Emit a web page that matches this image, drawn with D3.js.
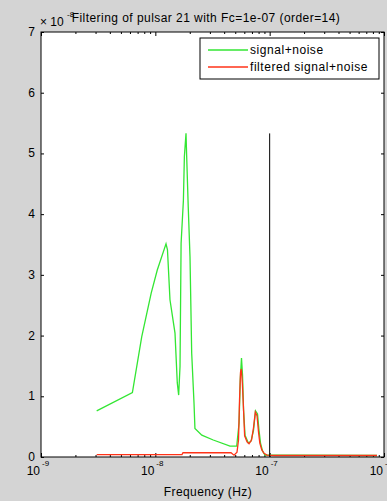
<!DOCTYPE html>
<html>
<head>
<meta charset="utf-8">
<script src="https://cdn.jsdelivr.net/npm/d3@7/dist/d3.min.js"></script>
<style>
  body { margin: 0; background: #d4d4d4; }
  svg { display: block; font-family: "Liberation Sans", Arial, sans-serif; }
  .axis path { display: none; }
  .axis line { stroke: #000; }
</style>
</head>
<body>
<svg></svg>
<script>
//Defining the Margins
var margin = { top: 32, right: 3, bottom: 44, left: 41 },
    width = 387 - margin.left - margin.right,
    height = 501 - margin.top - margin.bottom;

// signal+noise (values in units of 1e-8)
var signalFreq = [3.07e-9, 6.3e-9, 7.6e-9, 9.2e-9, 1.04e-8, 1.24e-8, 1.277e-8, 1.343e-8, 1.486e-8,
                  1.556e-8, 1.60e-8, 1.644e-8, 1.68e-8, 1.76e-8, 1.795e-8, 1.855e-8, 1.88e-8,
                  1.94e-8, 2.01e-8, 2.08e-8, 2.18e-8, 2.22e-8, 2.55e-8, 3.21e-8, 4.5e-8, 5.15e-8,
                  5.40e-8, 5.53e-8, 5.67e-8, 5.79e-8, 5.91e-8, 6.09e-8, 6.51e-8, 6.87e-8, 7.22e-8,
                  7.52e-8, 7.83e-8, 8.07e-8, 8.32e-8, 8.66e-8, 9.10e-8, 1.0e-7, 1.666e-7, 8.69e-7];
var signalVal  = [0.76, 1.06, 1.98, 2.70, 3.08, 3.51, 3.41, 2.59, 2.04,
                  1.22, 1.02, 1.49, 3.52, 4.23, 4.95, 5.33, 4.95,
                  4.12, 3.30, 1.71, 0.88, 0.47, 0.36, 0.28, 0.18, 0.18,
                  0.56, 1.27, 1.63, 1.35, 0.77, 0.36, 0.23, 0.26, 0.44,
                  0.76, 0.71, 0.44, 0.23, 0.10, 0.03, 0.03, 0.03, 0.025];

// filtered signal+noise
var filteredFreq = [3.07e-9, 1.71e-8, 1.746e-8, 4.59e-8, 4.88e-8, 5.18e-8, 5.34e-8, 5.45e-8, 5.56e-8,
                    5.65e-8, 5.77e-8, 5.89e-8, 6.04e-8, 6.34e-8, 6.60e-8, 6.94e-8, 7.22e-8, 7.49e-8,
                    7.75e-8, 7.99e-8, 8.20e-8, 8.52e-8, 8.92e-8, 9.48e-8, 1.114e-7, 8.69e-7];
var filteredVal  = [0.04, 0.04, 0.07, 0.07, 0.03, 0.08, 0.28, 0.94, 1.40,
                    1.45, 1.22, 0.84, 0.35, 0.25, 0.22, 0.28, 0.48, 0.74,
                    0.68, 0.41, 0.23, 0.12, 0.06, 0.03, 0.025, 0.025];

var cutoff = 1e-7;
var yTickValues = [0, 1, 2, 3, 4, 5, 6, 7];
var xMajorTicks = [1e-9, 1e-8, 1e-7, 1e-6];
var xMajorLabels = ["-9", "-8", "-7", "-6"];
var legendLabels = ["signal+noise", "filtered signal+noise"];
var titleText = "Filtering of pulsar 21 with Fc=1e-07 (order=14)";

var svg = d3.select("svg")
    .attr("width", width + margin.left + margin.right)
    .attr("height", height + margin.top + margin.bottom);

//Set the X and Y scales
var xScale = d3.scaleLog()
    .domain([1e-9, 1e-6])
    .range([0, width]);

var yScale = d3.scaleLinear()
    .domain([0, 7])
    .range([height, 0]);

var g = svg.append("g")
    .attr("transform", "translate(" + margin.left + "," + margin.top + ")");

// white axes background
g.append("rect")
    .attr("width", width)
    .attr("height", height)
    .attr("fill", "#fff");

// Defining the Axis (ticks point inward, MATLAB style)
var minorTicks = xScale.ticks().filter(function(d) { return xMajorTicks.indexOf(d) < 0; });

function xAxisPair(ticks, len) {
  g.append("g").attr("class", "axis")
      .attr("transform", "translate(0," + height + ")")
      .call(d3.axisBottom(xScale).tickValues(ticks).tickSize(-len).tickFormat(""));
  g.append("g").attr("class", "axis")
      .call(d3.axisTop(xScale).tickValues(ticks).tickSize(-len).tickFormat(""));
}
xAxisPair(minorTicks, 2);
xAxisPair(xMajorTicks, 4);

g.append("g").attr("class", "axis")
    .call(d3.axisLeft(yScale).tickValues(yTickValues).tickSize(-3).tickFormat(""));
g.append("g").attr("class", "axis")
    .attr("transform", "translate(" + width + ",0)")
    .call(d3.axisRight(yScale).tickValues(yTickValues).tickSize(-3).tickFormat(""));

// y tick labels
g.selectAll(".ylab")
    .data(yTickValues)
  .enter().append("text")
    .attr("class", "ylab")
    .attr("x", -6)
    .attr("y", function(d) { return yScale(d) + 4; })
    .attr("text-anchor", "end")
    .attr("font-size", 12)
    .text(function(d) { return d; });

// x tick labels 10^n
xMajorTicks.forEach(function(t, i) {
  var x = xScale(t);
  g.append("text")
      .attr("x", x - 1)
      .attr("y", height + 18)
      .attr("text-anchor", "end")
      .attr("font-size", 12)
      .text("10");
  g.append("text")
      .attr("x", x + 1)
      .attr("y", height + 9)
      .attr("font-size", 8)
      .text(xMajorLabels[i]);
});

// lines
var line = d3.line()
    .x(function(d) { return xScale(d[0]); })
    .y(function(d) { return yScale(d[1]); });

g.append("path")
    .datum(d3.zip(signalFreq, signalVal))
    .attr("fill", "none")
    .attr("stroke", "#33e633")
    .attr("stroke-width", 1.3)
    .attr("d", line);

g.append("path")
    .datum(d3.zip(filteredFreq, filteredVal))
    .attr("fill", "none")
    .attr("stroke", "#ff3318")
    .attr("stroke-width", 1.3)
    .attr("d", line);

// cutoff line
g.append("line")
    .attr("x1", xScale(cutoff)).attr("x2", xScale(cutoff))
    .attr("y1", yScale(0)).attr("y2", yScale(d3.max(signalVal)))
    .attr("stroke", "#000")
    .attr("stroke-width", 1);

// axes box
g.append("rect")
    .attr("width", width)
    .attr("height", height)
    .attr("fill", "none")
    .attr("stroke", "#000");

// legend
var legend = g.append("g")
    .attr("transform", "translate(" + (200 - margin.left) + "," + (38 - margin.top) + ")");
legend.append("rect")
    .attr("width", 179)
    .attr("height", 41)
    .attr("fill", "#fff")
    .attr("stroke", "#000");
var colors = ["#33e633", "#ff3318"];
legendLabels.forEach(function(lab, i) {
  legend.append("line")
      .attr("x1", 8).attr("x2", 48)
      .attr("y1", 12 + i * 17).attr("y2", 12 + i * 17)
      .attr("stroke", colors[i])
      .attr("stroke-width", 1.3);
  legend.append("text")
      .attr("x", 50)
      .attr("y", 16 + i * 17)
      .attr("font-size", 12)
      .attr("letter-spacing", 0.55)
      .text(lab);
});

// title and exponent label
svg.append("text")
    .attr("x", 206)
    .attr("y", 22)
    .attr("text-anchor", "middle")
    .attr("font-size", 12)
    .attr("letter-spacing", 0.45)
    .text(titleText);
svg.append("text")
    .attr("x", 40)
    .attr("y", 26)
    .attr("font-size", 12)
    .text("\u00d7 10");
svg.append("text")
    .attr("x", 67)
    .attr("y", 17)
    .attr("font-size", 8)
    .text("-8");

// x label
svg.append("text")
    .attr("x", 208)
    .attr("y", 496)
    .attr("text-anchor", "middle")
    .attr("font-size", 12)
    .attr("letter-spacing", 0.4)
    .text("Frequency (Hz)");
</script>
</body>
</html>
